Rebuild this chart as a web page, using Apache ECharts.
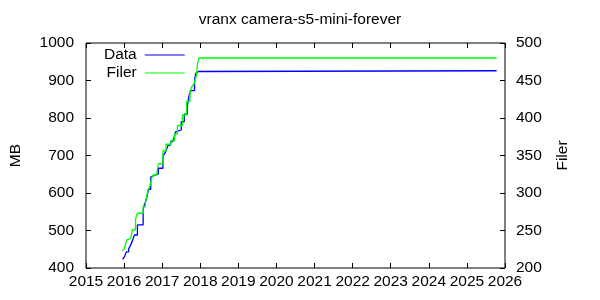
<!DOCTYPE html>
<html><head><meta charset="utf-8">
<script src="https://cdn.jsdelivr.net/npm/echarts@6/dist/echarts.min.js"></script>
<style>html,body{margin:0;padding:0;background:#fff}#c{width:600px;height:300px}</style>
</head><body><div id="c"></div>
<script>
const chartTitle = 'vranx camera-s5-mini-forever';
const seriesNames = ['Data', 'Filer'];
const leftAxisName = 'MB';
const rightAxisName = 'Filer';
const xRange = [2015, 2026];
const leftRange = [400, 1000];
const rightRange = [200, 500];

// [year, MB]
const dataMB = [
  [2015.96, 423], [2016.01, 430], [2016.06, 443], [2016.12, 451], [2016.17, 461],
  [2016.22, 473], [2016.27, 488], [2016.35, 515], [2016.50, 555], [2016.53, 568],
  [2016.56, 575], [2016.60, 590], [2016.64, 610], [2016.70, 643], [2016.74, 648],
  [2016.83, 651], [2016.90, 666], [2017.02, 699], [2017.07, 706], [2017.11, 715],
  [2017.16, 728], [2017.22, 737], [2017.28, 741], [2017.32, 750], [2017.35, 763],
  [2017.40, 768], [2017.50, 790], [2017.58, 810], [2017.66, 830], [2017.70, 857],
  [2017.74, 873], [2017.85, 901], [2017.88, 919], [2017.92, 924], [2017.95, 926],
  [2025.78, 926]
];
// [year, files]
const dataFiler = [
  [2015.96, 223], [2016.01, 226], [2016.04, 233], [2016.07, 237.5], [2016.12, 239],
  [2016.17, 241], [2016.22, 251], [2016.30, 265], [2016.35, 273], [2016.50, 282],
  [2016.56, 287], [2016.60, 297], [2016.63, 304], [2016.68, 310], [2016.73, 321],
  [2016.76, 324], [2016.86, 327], [2016.90, 339], [2017.02, 356], [2017.10, 365],
  [2017.23, 370], [2017.33, 379], [2017.40, 390], [2017.53, 404], [2017.64, 422],
  [2017.73, 435], [2017.78, 442], [2017.83, 445], [2017.86, 450], [2017.90, 457],
  [2017.93, 473], [2017.97, 480], [2025.78, 480]
];

const FONT = 'Liberation Sans';
const FS = 15.5;
const chart = echarts.init(document.getElementById('c'), null, {renderer: 'canvas'});
const tick = {show: true, inside: true, length: 5, lineStyle: {color: '#000', width: 1}};
chart.setOption({
  animation: false,
  backgroundColor: '#fff',
  title: {text: chartTitle, left: 'center', top: 7,
    textStyle: {fontFamily: FONT, fontSize: 15.5, fontWeight: 'normal', color: '#000'}},
  grid: {left: 83, right: 95, top: 43, bottom: 32, show: true, borderColor: '#000', borderWidth: 1, backgroundColor: 'transparent'},
  legend: {
    orient: 'vertical', left: 104, top: 47, itemGap: 2, align: 'right', padding: 0,
    itemWidth: 40, itemHeight: 12, icon: 'path://M0,6 L40,6 L40,7 L0,7 Z',
    textStyle: {fontFamily: FONT, fontSize: 15.5, color: '#000', width: 33, align: 'right', padding: [0, 3, 0, 0]},
    data: seriesNames
  },
  xAxis: [
    {type: 'value', min: xRange[0], max: xRange[1], interval: 1, position: 'bottom',
      axisLine: {show: false}, axisTick: tick, splitLine: {show: false},
      axisLabel: {fontFamily: FONT, fontSize: FS, color: '#000', margin: 6, formatter: v => String(v)}},
    {type: 'value', min: xRange[0], max: xRange[1], interval: 1, position: 'top',
      axisLine: {show: false}, axisTick: tick, splitLine: {show: false}, axisLabel: {show: false}}
  ],
  yAxis: [
    {type: 'value', min: leftRange[0], max: leftRange[1], interval: 100, position: 'left',
      name: leftAxisName, nameLocation: 'middle', nameRotate: 90, nameGap: 62,
      nameTextStyle: {fontFamily: FONT, fontSize: FS, color: '#000'},
      axisLine: {show: false}, axisTick: tick, splitLine: {show: false},
      axisLabel: {fontFamily: FONT, fontSize: FS, color: '#000', margin: 12, formatter: v => String(v)}},
    {type: 'value', min: rightRange[0], max: rightRange[1], interval: 50, position: 'right',
      name: rightAxisName, nameLocation: 'middle', nameRotate: 90, nameGap: 50,
      nameTextStyle: {fontFamily: FONT, fontSize: FS, color: '#000'},
      axisLine: {show: false}, axisTick: tick, splitLine: {show: false},
      axisLabel: {fontFamily: FONT, fontSize: FS, color: '#000', margin: 11, formatter: v => String(v)}}
  ],
  series: [
    {name: seriesNames[0], type: 'line', step: 'end', data: dataMB, yAxisIndex: 0, xAxisIndex: 0,
      symbol: 'none', color: '#0000ff', lineStyle: {color: '#0000ff', width: 1.3}},
    {name: seriesNames[1], type: 'line', step: 'end', data: dataFiler, yAxisIndex: 1, xAxisIndex: 0,
      symbol: 'none', color: '#00ff00', lineStyle: {color: '#00ff00', width: 1.3}}
  ]
});
</script></body></html>
